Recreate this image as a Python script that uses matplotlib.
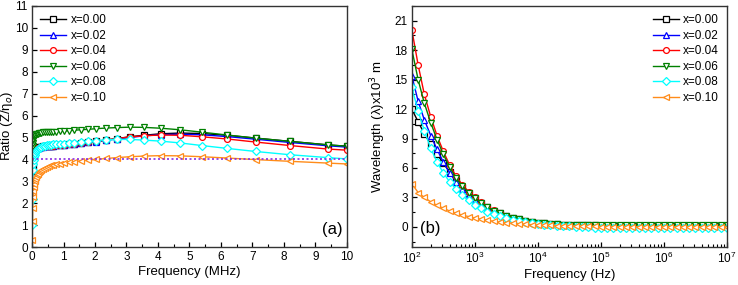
import matplotlib
matplotlib.use("Agg")
import matplotlib.pyplot as plt
from matplotlib.ticker import MultipleLocator, LogLocator, NullFormatter

plt.rcParams['font.family'] = ['Liberation Sans', 'DejaVu Sans']

labels = ["x=0.00", "x=0.02", "x=0.04", "x=0.06", "x=0.08", "x=0.10"]
colors = ["black", "#0000ff", "#ff0000", "#008000", "#00ffff", "#ff8c1a"]
markers = ["s", "^", "o", "v", "D", "<"]

# ---------- panel (a) ----------
freq_mhz = [0.01, 0.015, 0.02, 0.03, 0.04, 0.05, 0.065, 0.08, 0.1, 0.125, 0.15, 0.18, 0.22, 0.26,
            0.3, 0.35, 0.4, 0.46, 0.53, 0.6, 0.68, 0.77, 0.88, 1.01, 1.17, 1.34, 1.54, 1.77, 2.04,
            2.35, 2.7, 3.1, 3.55, 4.1, 4.7, 5.4, 6.2, 7.1, 8.2, 9.4, 10.0]

ratio_000 = [3.2, 3.7, 3.95, 4.15, 4.25, 4.32, 4.38, 4.42, 4.46, 4.5, 4.52, 4.54, 4.56, 4.57, 4.58,
             4.59, 4.6, 4.61, 4.62, 4.62, 4.63, 4.64, 4.65, 4.66, 4.68, 4.7, 4.73, 4.77, 4.82, 4.88,
             4.95, 5.03, 5.1, 5.17, 5.2, 5.18, 5.1, 4.97, 4.82, 4.66, 4.6]
ratio_002 = [3.0, 3.6, 3.9, 4.1, 4.2, 4.28, 4.35, 4.4, 4.44, 4.48, 4.5, 4.52, 4.54, 4.56, 4.57,
             4.58, 4.59, 4.6, 4.61, 4.62, 4.63, 4.64, 4.65, 4.66, 4.68, 4.7, 4.73, 4.77, 4.81, 4.87,
             4.93, 5.0, 5.07, 5.13, 5.15, 5.12, 5.04, 4.92, 4.77, 4.62, 4.56]
ratio_004 = [2.8, 3.5, 3.85, 4.08, 4.2, 4.28, 4.35, 4.4, 4.44, 4.48, 4.5, 4.52, 4.54, 4.56, 4.57,
             4.58, 4.59, 4.6, 4.61, 4.62, 4.63, 4.64, 4.65, 4.66, 4.68, 4.7, 4.73, 4.77, 4.82, 4.88,
             4.95, 5.02, 5.08, 5.11, 5.1, 5.03, 4.93, 4.79, 4.63, 4.47, 4.42]
ratio_006 = [4.3, 4.6, 4.75, 4.88, 4.95, 5.0, 5.05, 5.08, 5.11, 5.14, 5.16, 5.18, 5.2, 5.21, 5.22,
             5.23, 5.24, 5.25, 5.26, 5.26, 5.27, 5.27, 5.28, 5.29, 5.31, 5.33, 5.35, 5.37, 5.4, 5.43,
             5.45, 5.47, 5.46, 5.42, 5.35, 5.24, 5.11, 4.97, 4.82, 4.66, 4.6]
ratio_008 = [1.0, 2.2, 2.9, 3.5, 3.8, 3.98, 4.12, 4.22, 4.3, 4.37, 4.42, 4.47, 4.51, 4.54, 4.57,
             4.6, 4.62, 4.64, 4.66, 4.67, 4.68, 4.7, 4.71, 4.72, 4.74, 4.76, 4.79, 4.82, 4.86, 4.89,
             4.91, 4.91, 4.88, 4.83, 4.75, 4.63, 4.5, 4.36, 4.21, 4.08, 4.02]
ratio_010 = [0.3, 1.2, 1.8, 2.3, 2.55, 2.72, 2.88, 3.0, 3.1, 3.2, 3.28, 3.35, 3.42, 3.48, 3.53,
             3.58, 3.62, 3.66, 3.7, 3.73, 3.76, 3.79, 3.81, 3.84, 3.87, 3.9, 3.93, 3.96, 4.0, 4.04,
             4.08, 4.12, 4.15, 4.17, 4.16, 4.12, 4.06, 3.99, 3.91, 3.83, 3.79]
ratio_ref = 4.0

# ---------- panel (b) ----------
freq_hz = [100, 126, 158, 200, 251, 316, 398, 501, 631, 794,
           1000, 1259, 1585, 1995, 2512, 3162, 3981, 5012, 6310, 7943,
           1e4, 12589, 15849, 19953, 25119, 31623, 39811, 50119, 63096, 79433,
           1e5, 125893, 158489, 199526, 251189, 316228, 398107, 501187, 630957, 794328,
           1e6, 1258925, 1584893, 1995262, 2511886, 3162278, 3981072, 5011872, 6309573, 7943282,
           1e7]

wl_000 = [12.0, 10.7, 9.5, 8.4, 7.4, 6.5, 5.6, 4.8, 4.05, 3.45,
          2.9, 2.42, 2.0, 1.65, 1.37, 1.13, 0.93, 0.76, 0.62, 0.51,
          0.42, 0.36, 0.31, 0.27, 0.24, 0.21, 0.19, 0.17, 0.16, 0.15,
          0.14, 0.13, 0.13, 0.12, 0.12, 0.12, 0.12, 0.12, 0.12, 0.12,
          0.12, 0.12, 0.12, 0.12, 0.12, 0.12, 0.12, 0.12, 0.12, 0.12, 0.12]
wl_002 = [15.4, 12.8, 10.9, 9.3, 7.9, 6.6, 5.5, 4.6, 3.85, 3.2,
          2.7, 2.25, 1.87, 1.55, 1.28, 1.05, 0.87, 0.71, 0.58, 0.48,
          0.4, 0.34, 0.29, 0.25, 0.22, 0.19, 0.17, 0.15, 0.14, 0.13,
          0.12, 0.11, 0.11, 0.1, 0.1, 0.1, 0.1, 0.1, 0.1, 0.1,
          0.1, 0.1, 0.1, 0.1, 0.1, 0.1, 0.1, 0.1, 0.1, 0.1, 0.1]
wl_004 = [20.1, 16.5, 13.5, 11.2, 9.3, 7.7, 6.3, 5.2, 4.3, 3.6,
          3.0, 2.5, 2.05, 1.7, 1.4, 1.15, 0.95, 0.78, 0.64, 0.52,
          0.43, 0.35, 0.29, 0.24, 0.2, 0.17, 0.14, 0.12, 0.1, 0.09,
          0.08, 0.07, 0.06, 0.06, 0.05, 0.05, 0.05, 0.05, 0.05, 0.05,
          0.05, 0.05, 0.05, 0.05, 0.05, 0.05, 0.05, 0.05, 0.05, 0.05, 0.05]
wl_006 = [18.1, 15.0, 12.6, 10.6, 8.9, 7.4, 6.1, 5.0, 4.15, 3.5,
          2.95, 2.45, 2.0, 1.65, 1.37, 1.13, 0.93, 0.76, 0.62, 0.5,
          0.42, 0.35, 0.3, 0.26, 0.23, 0.21, 0.19, 0.18, 0.17, 0.16,
          0.16, 0.15, 0.15, 0.15, 0.15, 0.15, 0.15, 0.15, 0.15, 0.15,
          0.15, 0.15, 0.15, 0.15, 0.15, 0.15, 0.15, 0.15, 0.15, 0.15, 0.15]
wl_008 = [14.2, 11.8, 9.8, 8.0, 6.6, 5.5, 4.6, 3.85, 3.2, 2.7,
          2.25, 1.88, 1.56, 1.29, 1.06, 0.87, 0.71, 0.58, 0.47, 0.38,
          0.31, 0.24, 0.18, 0.13, 0.08, 0.04, 0.01, -0.02, -0.05, -0.07,
          -0.09, -0.1, -0.11, -0.12, -0.13, -0.13, -0.14, -0.14, -0.14, -0.14,
          -0.14, -0.14, -0.14, -0.14, -0.14, -0.14, -0.14, -0.14, -0.14, -0.14, -0.14]
wl_010 = [4.4, 3.5, 3.0, 2.55, 2.2, 1.9, 1.62, 1.4, 1.2, 1.05,
          0.9, 0.78, 0.67, 0.57, 0.49, 0.42, 0.36, 0.31, 0.27, 0.23,
          0.2, 0.17, 0.15, 0.13, 0.11, 0.09, 0.07, 0.06, 0.05, 0.04,
          0.03, 0.02, 0.02, 0.01, 0.01, 0.0, 0.0, 0.0, 0.0, 0.0,
          0.0, 0.0, 0.0, 0.0, 0.0, 0.0, 0.0, 0.0, 0.0, 0.0, 0.0]

ratio_series = [ratio_000, ratio_002, ratio_004, ratio_006, ratio_008, ratio_010]
wl_series = [wl_000, wl_002, wl_004, wl_006, wl_008, wl_010]

fig = plt.figure(figsize=(7.38, 2.85), dpi=100)
ax1 = fig.add_axes([0.0434, 0.1333, 0.4266, 0.8457])
ax2 = fig.add_axes([0.558, 0.1333, 0.427, 0.8457])

mk = dict(markersize=4.2, markerfacecolor="white", markeredgewidth=0.9, linewidth=1.0)

for y, c, m, l in zip(ratio_series, colors, markers, labels):
    ax1.plot(freq_mhz, y, color=c, marker=m, markeredgecolor=c, label=l, **mk)
ax1.axhline(ratio_ref, color="#8a2be2", linestyle=(0, (1.2, 1.5)), linewidth=1.2)

ax1.set_xlim(0, 10)
ax1.set_ylim(0, 11)
ax1.xaxis.set_major_locator(MultipleLocator(1))
ax1.xaxis.set_minor_locator(MultipleLocator(0.5))
ax1.yaxis.set_major_locator(MultipleLocator(1))
ax1.set_xlabel("Frequency (MHz)", fontsize=9.5, labelpad=2)
ax1.set_ylabel("Ratio (Z/\u03b7$_o$)", fontsize=9.5)
ax1.yaxis.set_label_coords(-0.055, 0.5)
ax1.text(0.985, 0.04, "(a)", transform=ax1.transAxes, ha="right", va="bottom", fontsize=12)
ax1.legend(loc="upper left", frameon=False, fontsize=8.5, handlelength=2.2, handletextpad=0.35,
           labelspacing=0.3, borderaxespad=0.3, bbox_to_anchor=(0.0, 1.0))

for y, c, m, l in zip(wl_series, colors, markers, labels):
    ax2.plot(freq_hz, y, color=c, marker=m, markeredgecolor=c, label=l, **mk)
ax2.set_xscale("log")
ax2.set_xlim(1e2, 1e7)
ax2.set_ylim(-2.05, 22.5)
ax2.yaxis.set_major_locator(MultipleLocator(3))
ax2.yaxis.set_minor_locator(MultipleLocator(1.5))
ax2.xaxis.set_major_locator(LogLocator(base=10, numticks=10))
ax2.xaxis.set_minor_locator(LogLocator(base=10, subs=range(2, 10), numticks=20))
ax2.xaxis.set_minor_formatter(NullFormatter())
ax2.set_xlabel("Frequency (Hz)", fontsize=9.5, labelpad=2)
ax2.set_ylabel("Wavelength (\u03bb)x10$^3$ m", fontsize=9.5)
ax2.yaxis.set_label_coords(-0.076, 0.5)
ax2.text(0.025, 0.045, "(b)", transform=ax2.transAxes, ha="left", va="bottom", fontsize=12)
ax2.legend(loc="upper right", frameon=False, fontsize=8.5, handlelength=2.2, handletextpad=0.35,
           labelspacing=0.3, borderaxespad=0.3)

for ax in (ax1, ax2):
    ax.tick_params(axis="both", which="both", direction="in", top=False, right=False,
                   labelsize=8.5, pad=3)
    ax.tick_params(which="major", length=3.5, width=0.9)
    ax.tick_params(which="minor", length=2, width=0.8)
    for s in ax.spines.values():
        s.set_linewidth(1.0)
        s.set_color("#333333")

fig.savefig("out.png", dpi=100)
